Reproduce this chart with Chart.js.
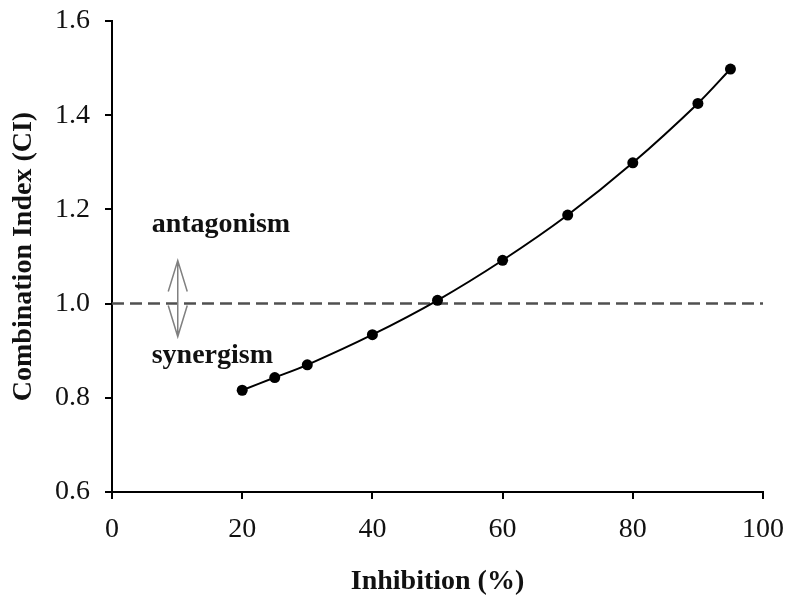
<!DOCTYPE html>
<html>
<head>
<meta charset="utf-8">
<script src="https://cdn.jsdelivr.net/npm/chart.js@4.4.1/dist/chart.umd.min.js"></script>
<style>
  html, body { margin: 0; padding: 0; background: #ffffff; }
  #wrap { width: 791px; height: 605px; }
</style>
</head>
<body>
<div id="wrap"><canvas id="c" width="791" height="605"></canvas></div>
<script>
// ---- data ----
const inhibition = [20, 25, 30, 40, 50, 60, 70, 80, 90, 95];
const ciValues   = [0.816, 0.843, 0.870, 0.934, 1.007, 1.092, 1.188, 1.299, 1.425, 1.498];
const xTicks = [0, 20, 40, 60, 80, 100];
const yTicks = [0.6, 0.8, 1.0, 1.2, 1.4, 1.6];
const refLineX = [0, 100];
const refLineY = [1.0, 1.0];
const xTitle = 'Inhibition (%)';
const yTitle = 'Combination Index (CI)';
const upperLabel = 'antagonism';
const lowerLabel = 'synergism';

const FONT = '"Liberation Serif", "Times New Roman", serif';

const annotationPlugin = {
  id: 'ciAnnotations',
  afterDatasetsDraw(chart) {
    const {ctx, scales: {x, y}} = chart;
    ctx.save();
    ctx.fillStyle = '#111';
    ctx.font = 'bold 28px ' + FONT;
    ctx.textAlign = 'left';
    ctx.textBaseline = 'alphabetic';
    const lx = x.getPixelForValue(6.1);
    ctx.fillText(upperLabel, lx, y.getPixelForValue(1.151));
    ctx.fillText(lowerLabel, lx, y.getPixelForValue(0.874));
    const ax = x.getPixelForValue(10.1);
    const yTop = y.getPixelForValue(1.0915);
    const yBot = y.getPixelForValue(0.930);
    ctx.strokeStyle = '#808080';
    ctx.lineWidth = 1.5;
    ctx.beginPath();
    ctx.moveTo(ax, yTop); ctx.lineTo(ax, yBot);
    ctx.moveTo(ax - 9.5, yTop + 31); ctx.lineTo(ax, yTop); ctx.lineTo(ax + 9.5, yTop + 31);
    ctx.moveTo(ax - 9.5, yBot - 31); ctx.lineTo(ax, yBot); ctx.lineTo(ax + 9.5, yBot - 31);
    ctx.stroke();
    ctx.restore();
  }
};

function noScalePadding(s) {
  s.paddingTop = 0; s.paddingBottom = 0; s.paddingLeft = 0; s.paddingRight = 0;
}

new Chart(document.getElementById('c'), {
  type: 'scatter',
  data: {
    datasets: [
      {
        label: 'ref',
        data: refLineX.map((v, i) => ({x: v, y: refLineY[i]})),
        showLine: true,
        borderColor: '#505050',
        borderWidth: 2.5,
        borderDash: [12, 6],
        pointRadius: 0,
        order: 2
      },
      {
        label: 'CI',
        data: inhibition.map((v, i) => ({x: v, y: ciValues[i]})),
        showLine: true,
        borderColor: '#000000',
        borderWidth: 2,
        tension: 0.3,
        pointRadius: 5.5,
        pointBackgroundColor: '#000000',
        pointBorderColor: '#000000',
        pointBorderWidth: 0,
        order: 1
      }
    ]
  },
  options: {
    responsive: false,
    animation: false,
    devicePixelRatio: 1,
    layout: { padding: { left: 0, right: 28, top: 21, bottom: 0 } },
    plugins: { legend: { display: false }, tooltip: { enabled: false } },
    scales: {
      x: {
        type: 'linear',
        min: 0, max: 100,
        afterBuildTicks(s) { s.ticks = xTicks.map(v => ({value: v})); },
        afterFit(s) { s.height = 113; noScalePadding(s); },
        grid: { display: true, drawOnChartArea: false, drawTicks: true, tickLength: 7, color: '#000', lineWidth: 2 },
        border: { display: true, color: '#000', width: 2 },
        ticks: { color: '#111', padding: 14, font: { family: FONT, size: 28 }, callback: v => String(v) },
        title: { display: true, text: xTitle, color: '#111', font: { family: FONT, size: 28, weight: 'bold' }, padding: { top: 0, bottom: 6 } }
      },
      y: {
        type: 'linear',
        min: 0.6, max: 1.6,
        afterBuildTicks(s) { s.ticks = yTicks.map(v => ({value: v})); },
        afterFit(s) { s.width = 112; noScalePadding(s); },
        grid: { display: true, drawOnChartArea: false, drawTicks: true, tickLength: 7, color: '#000', lineWidth: 2 },
        border: { display: true, color: '#000', width: 2 },
        ticks: { color: '#111', padding: 15, font: { family: FONT, size: 28 }, callback: v => Number(v).toFixed(1) },
        title: { display: true, text: yTitle, color: '#111', font: { family: FONT, size: 28, weight: 'bold' }, padding: { top: 7, bottom: 0 } }
      }
    }
  },
  plugins: [annotationPlugin]
});
</script>
</body>
</html>
